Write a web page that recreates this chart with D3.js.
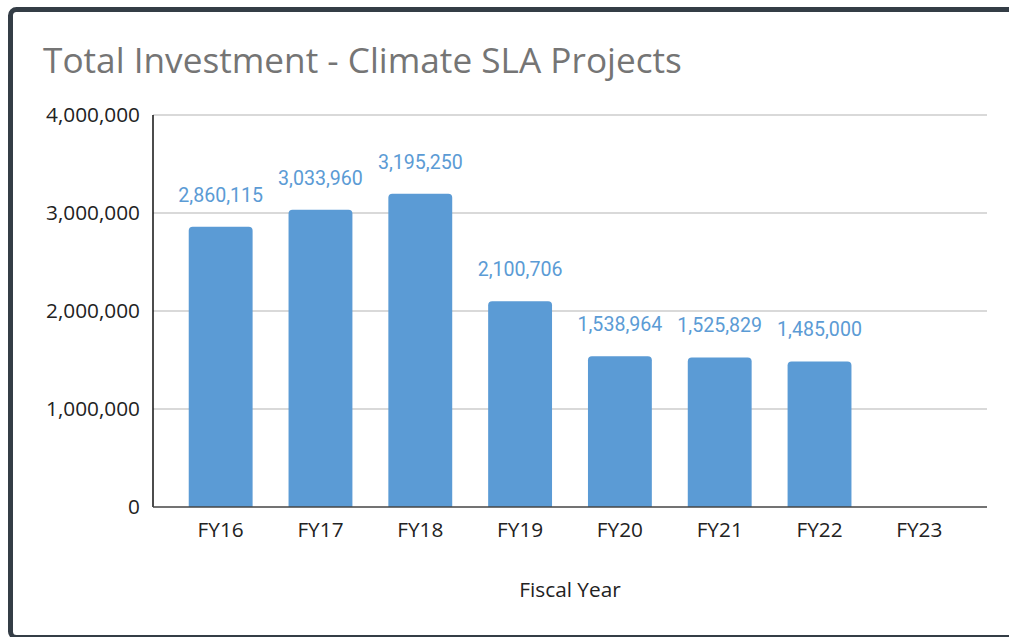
<!DOCTYPE html>
<html>
<head>
<meta charset="utf-8">
<script src="https://cdn.jsdelivr.net/npm/d3@7"></script>
<style>
	html, body { margin: 0; padding: 0; background: #fff; overflow: hidden; }
	svg { display: block; }
	.grid line { stroke: #cccccc; stroke-width: 1.5; }
	.tick-label { font-family: "Open Sans", sans-serif; font-size: 20.8px; fill: #222; }
	.bar-label { font-family: Roboto, sans-serif; font-size: 19.6px; fill: #5b9bd5; }
</style>
</head>
<body>
<svg id="chart"></svg>
<script>
const WIDTH = 1009;
const HEIGHT = 637;

const years = ["FY16", "FY17", "FY18", "FY19", "FY20", "FY21", "FY22", "FY23"];
const investment = [2860115, 3033960, 3195250, 2100706, 1538964, 1525829, 1485000, null];
const yTicks = [0, 1000000, 2000000, 3000000, 4000000];

const svg = d3.select("#chart").attr("width", WIDTH).attr("height", HEIGHT);

// frame around the whole card
svg.append("rect")
	.attr("x", 10.5)
	.attr("y", 9.5)
	.attr("width", 1020)
	.attr("height", 628)
	.attr("rx", 6)
	.attr("fill", "#fff")
	.attr("stroke", "#343d46")
	.attr("stroke-width", 5);

svg.append("text")
	.attr("x", 43)
	.attr("y", 73)
	.attr("font-family", "'Open Sans', sans-serif")
	.attr("font-size", 35.2)
	.attr("fill", "#757575")
	.text("Total Investment - Climate SLA Projects");

const plot = { left: 153, right: 987, top: 115, bottom: 507 };

const xScale = d3.scaleBand(years, [plot.left, plot.right])
	.paddingInner(0.36)
	.paddingOuter(0.358);
const yScale = d3.scaleLinear([0, 4000000], [plot.bottom, plot.top]);

// horizontal gridlines
svg.append("g")
	.classed("grid", true)
	.selectAll("line")
	.data(yTicks.filter(d => d > 0))
	.join("line")
	.attr("x1", plot.left)
	.attr("x2", plot.right)
	.attr("y1", d => yScale(d))
	.attr("y2", d => yScale(d));

svg.append("g")
	.selectAll("text")
	.data(yTicks)
	.join("text")
	.classed("tick-label", true)
	.attr("x", 140)
	.attr("y", d => yScale(d))
	.attr("dy", "0.36em")
	.attr("text-anchor", "end")
	.text(d => d3.format(",")(d));

// bars with rounded tops
const r = 4;
function barPath(d, i) {
	const x0 = xScale(years[i]);
	const x1 = x0 + xScale.bandwidth();
	const y0 = yScale(0);
	const y1 = yScale(d);
	return `M${x0},${y0}V${y1 + r}Q${x0},${y1} ${x0 + r},${y1}H${x1 - r}Q${x1},${y1} ${x1},${y1 + r}V${y0}Z`;
}

const bars = investment.map((v, i) => ({ v, i })).filter(d => d.v != null);

svg.append("g")
	.selectAll("path")
	.data(bars)
	.join("path")
	.attr("d", d => barPath(d.v, d.i))
	.attr("fill", "#5b9bd5");

svg.append("g")
	.selectAll("text")
	.data(bars)
	.join("text")
	.classed("bar-label", true)
	.attr("x", d => xScale(years[d.i]) + xScale.bandwidth() / 2)
	.attr("y", d => yScale(d.v) - 25)
	.attr("text-anchor", "middle")
	.text(d => d3.format(",")(d.v));

// axes lines
svg.append("line")
	.attr("x1", plot.left)
	.attr("x2", plot.left)
	.attr("y1", plot.top)
	.attr("y2", plot.bottom)
	.attr("stroke", "#111")
	.attr("stroke-width", 1.5);

svg.append("line")
	.attr("x1", plot.left)
	.attr("x2", plot.right)
	.attr("y1", plot.bottom)
	.attr("y2", plot.bottom)
	.attr("stroke", "#444")
	.attr("stroke-width", 1.5);

svg.append("g")
	.selectAll("text")
	.data(years)
	.join("text")
	.classed("tick-label", true)
	.attr("x", d => xScale(d) + xScale.bandwidth() / 2)
	.attr("y", 537)
	.attr("text-anchor", "middle")
	.text(d => d);

svg.append("text")
	.classed("tick-label", true)
	.attr("x", (plot.left + plot.right) / 2)
	.attr("y", 597)
	.attr("text-anchor", "middle")
	.text("Fiscal Year");
</script>
</body>
</html>
